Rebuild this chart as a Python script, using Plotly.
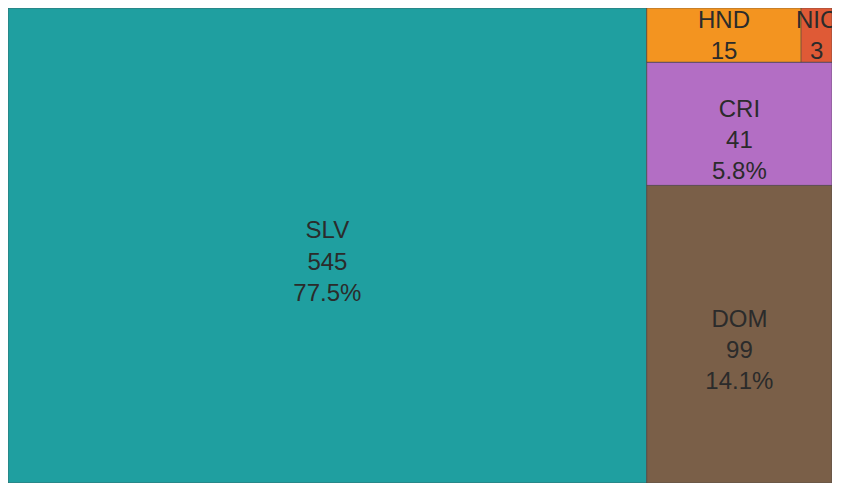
import plotly.graph_objects as go

# Country counts
labels = ["SLV", "DOM", "CRI", "HND", "NIC"]
values = [545, 99, 41, 15, 3]
colors = ["#1f9fa0", "#7a5f48", "#b36ec4", "#f39420", "#df5a36"]

# Layout groups (invisible, fully covered by their children) used to reproduce
# the tile arrangement: SLV | [DOM / CRI / [HND | NIC]]
group_ids = ["grp_right", "grp_top"]
group_parents = ["", "grp_right"]
leaf_parents = ["", "grp_right", "grp_right", "grp_top", "grp_top"]

full_tpl = "\u00a0<br>%{label}<br>%{value}<br>%{percentRoot:.1%}"
short_tpl = "%{label}<br>%{value}"
leaf_templates = [full_tpl, full_tpl, full_tpl, short_tpl, short_tpl]

ids = labels + group_ids
all_labels = labels + ["", ""]
parents = leaf_parents + group_parents
all_values = values + [0, 0]
all_colors = colors + ["#7a5f48", "#f39420"]
templates = leaf_templates + [" ", " "]

fig = go.Figure(go.Treemap(
    ids=ids,
    labels=all_labels,
    parents=parents,
    values=all_values,
    branchvalues="remainder",
    marker=dict(colors=all_colors, line=dict(width=0.5, color="#444"),
                pad=dict(t=0, l=0, r=0, b=0)),
    texttemplate=templates,
    textposition="middle center",
    textfont=dict(family="Liberation Sans, Arial, sans-serif", size=24, color="#2b2b2b"),
    sort=True,
    tiling=dict(packing="slice-dice", pad=0, flip="y"),
    pathbar=dict(visible=False),
    hoverinfo="skip",
))
fig.update_layout(
    width=824, height=475,
    margin=dict(l=0, r=0, t=0, b=0),
    uniformtext=dict(minsize=24, mode="show"),
    paper_bgcolor="white",
)
fig.write_html("out.html")
